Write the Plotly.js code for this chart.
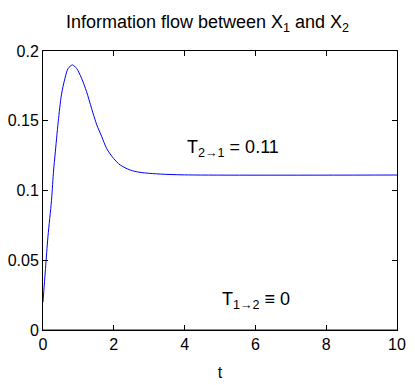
<!DOCTYPE html>
<html>
<head>
<script src="https://cdn.plot.ly/plotly-3.0.1.min.js"></script>
<style>body{margin:0;padding:0;background:#fff;}#chart{width:415px;height:385px;}</style>
</head>
<body>
<div id="chart"></div>
<script>
const t21 = [0, 0.07, 0.14, 0.24, 0.3, 0.34, 0.43, 0.52, 0.62, 0.71, 0.83, 0.95, 1.09, 1.23, 1.37, 1.52, 1.66, 1.8, 1.99, 2.18, 2.46, 2.74, 3.31, 4, 10];
const T21 = [0.020, 0.044, 0.067, 0.093, 0.1147, 0.1254, 0.1493, 0.1685, 0.1804, 0.1875, 0.190, 0.1875, 0.1804, 0.1709, 0.159, 0.147, 0.1386, 0.130, 0.1231, 0.1183, 0.1147, 0.113, 0.1118, 0.1112, 0.1111];
const t12 = [0, 10];
const T12 = [0, 0];
const xTicks = [0, 2, 4, 6, 8, 10];
const yTicks = [0, 0.05, 0.1, 0.15, 0.2];
const yTickText = ['0', '0.05', '0.1', '0.15', '0.2'];
const titleText = 'Information flow between X<sub>1</sub> and X<sub>2</sub>';
const label21 = 'T<sub>2\u21921</sub> = 0.11';
const label12 = 'T<sub>1\u21922</sub> \u2261 0';

const fam = 'Liberation Sans, Arial, Helvetica, sans-serif';
const font = {family: fam, size: 16, color: '#000'};
const bigFont = {family: fam, size: 18, color: '#000'};
const traces = [
  {x: t21, y: T21, type: 'scatter', mode: 'lines', line: {color: '#0000ff', width: 1, shape: 'spline', smoothing: 0.8}, cliponaxis: false, hoverinfo: 'none'},
  {x: t12, y: T12, type: 'scatter', mode: 'lines', line: {color: '#0000ff', width: 1.2}, cliponaxis: false, hoverinfo: 'none'}
];
const axisCommon = {showgrid: false, zeroline: false, showline: true, linecolor: '#000', linewidth: 1, mirror: 'ticks', ticks: 'inside', ticklen: 5, tickcolor: '#000', tickfont: font};
const layout = {
  width: 415, height: 385,
  margin: {l: 43, r: 18, t: 51, b: 55},
  paper_bgcolor: '#fff', plot_bgcolor: '#fff',
  showlegend: false,
  font: font,
  title: {text: titleText, font: bigFont, x: 0.5, xanchor: 'center', y: 0.943, yanchor: 'middle'},
  xaxis: Object.assign({}, axisCommon, {range: [0, 10], tickvals: xTicks, title: {text: 't', font: font, standoff: 14}}),
  yaxis: Object.assign({}, axisCommon, {range: [0, 0.2], tickvals: yTicks, ticktext: yTickText}),
  annotations: [
    {x: 5.38, y: 0.130, xref: 'x', yref: 'y', text: label21, showarrow: false, font: bigFont},
    {x: 6.02, y: 0.021, xref: 'x', yref: 'y', text: label12, showarrow: false, font: bigFont}
  ]
};
Plotly.newPlot('chart', traces, layout, {displayModeBar: false, staticPlot: true});
</script>
</body>
</html>
